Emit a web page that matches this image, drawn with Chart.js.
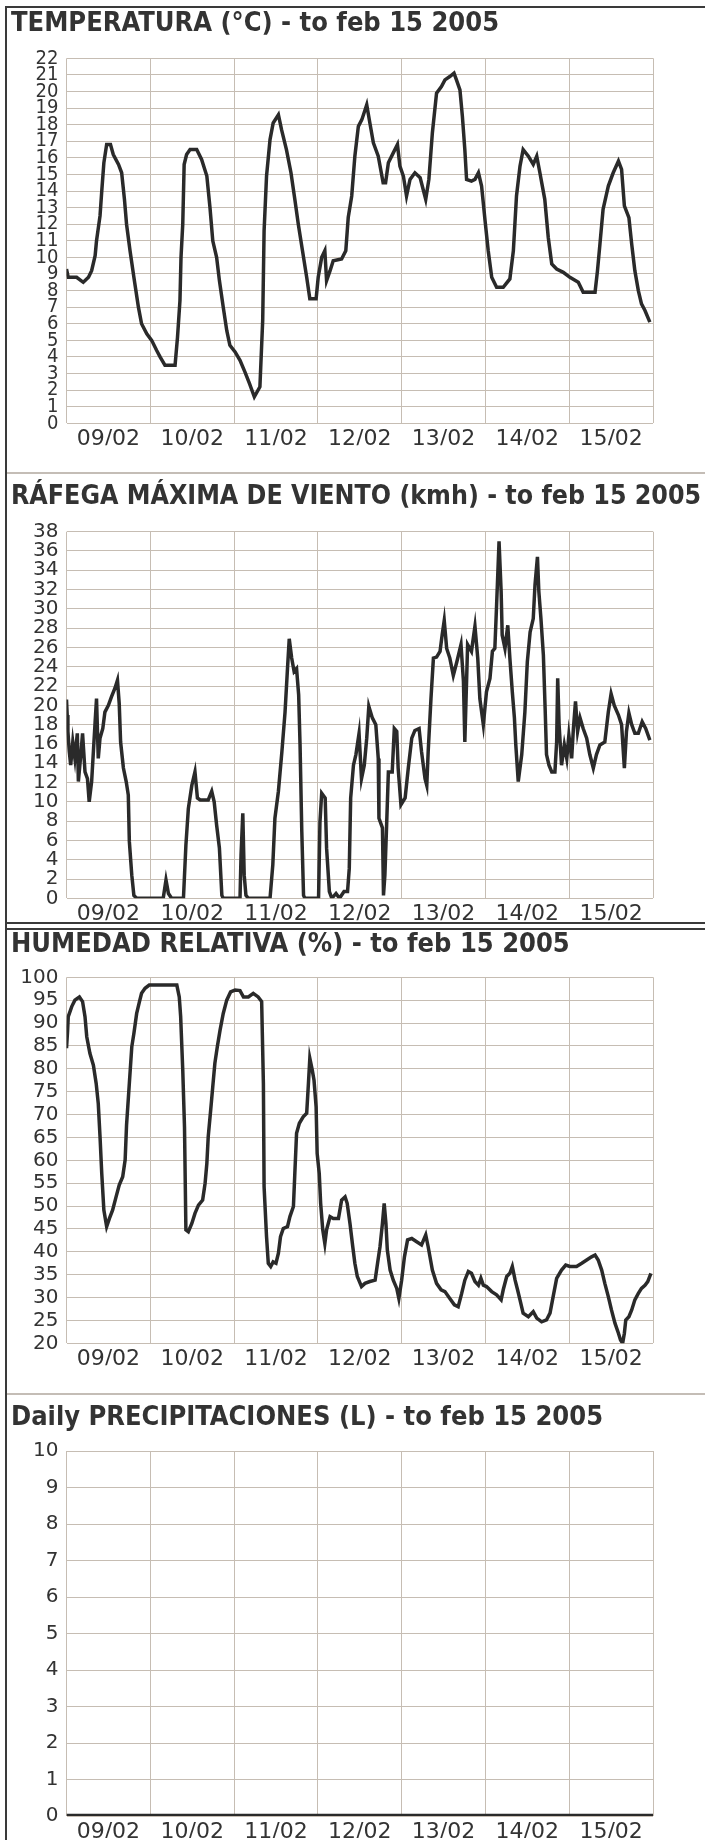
<!DOCTYPE html>
<html>
<head>
<meta charset="utf-8">
<script src="https://cdn.jsdelivr.net/npm/chart.js@4/dist/chart.umd.min.js"></script>
<style>
html,body{margin:0;padding:0;background:#ffffff;}
#page{position:relative;width:705px;height:1840px;overflow:hidden;background:#ffffff;}
.panel{position:absolute;left:0;width:705px;}
.panel canvas{display:block;}
.rule{position:absolute;z-index:5;}
</style>
</head>
<body>
<div id="page">
  <div class="panel" style="top:0px;height:473px"><canvas id="cTemp" width="705" height="473"></canvas></div>
  <div class="panel" style="top:473px;height:450px"><canvas id="cWind" width="705" height="450"></canvas></div>
  <div class="panel" style="top:930px;height:464px"><canvas id="cHum" width="705" height="464"></canvas></div>
  <div class="panel" style="top:1394px;height:446px"><canvas id="cRain" width="705" height="446"></canvas></div>

  <div class="rule" style="left:5px;top:6px;width:2px;height:1834px;background:#3a3a3a"></div>
  <div class="rule" style="left:5px;top:6px;width:700px;height:2px;background:#3a3a3a"></div>
  <div class="rule" style="left:7px;top:472px;width:698px;height:2px;background:#c4bdb6"></div>
  <div class="rule" style="left:5px;top:922px;width:700px;height:2px;background:#3a3a3a"></div>
  <div class="rule" style="left:5px;top:928px;width:700px;height:2px;background:#3a3a3a"></div>
  <div class="rule" style="left:7px;top:1393px;width:698px;height:2px;background:#c4bdb6"></div>
</div>
<script>
// ---------- categories / tick labels ----------
const dayLabels = ['09/02', '10/02', '11/02', '12/02', '13/02', '14/02', '15/02'];

// ---------- TEMPERATURA (°C) : hours since 09/02 00:00 ----------
const tempHours = [0,0.5,2.9,4.8,6.3,7.2,8.2,8.6,9.6,10.1,10.7,11.5,12.6,13.4,14.9,15.8,16.6,17.2,18.2,19.3,20.6,21.5,23.0,24.4,25.8,26.8,28.2,31.1,31.8,32.5,32.8,33.3,33.7,34.4,35.4,37.3,38.7,40.2,41.1,41.9,43.0,43.8,44.9,45.9,46.8,48.3,49.7,51.1,52.4,53.8,55.4,56.2,56.6,57.3,58.3,59.2,60.7,61.6,63.0,64.3,65.4,66.4,67.6,68.8,69.7,71.5,72.1,73.1,74.0,74.5,75.5,76.4,78.8,80.0,80.7,81.7,82.6,83.6,84.6,86.0,86.9,87.9,89.3,90.7,91.4,92.2,93.6,94.8,95.5,96.5,97.4,98.4,99.8,101.3,102.9,103.8,104.8,106.0,107.4,108.4,109.8,111.0,111.7,112.7,113.4,114.1,114.6,116.0,117.0,118.0,118.9,119.9,120.8,121.8,123.2,125.1,127.0,128.0,128.9,129.9,130.8,132.3,133.7,134.7,135.6,137.0,138.0,139.0,140.4,142.3,144.2,146.6,148.0,151.4,152.1,152.8,153.7,155.2,156.6,158.1,159.0,159.8,161.1,161.9,162.8,163.8,164.7,165.7,167.1];
const tempValues = [9.3,8.8,8.8,8.5,8.8,9.2,10.1,11.0,12.5,14.0,15.7,16.8,16.8,16.2,15.6,15.1,13.5,12.0,10.4,8.8,7.0,6.0,5.4,5.0,4.4,4.0,3.5,3.5,5.2,7.4,10.0,12.0,15.6,16.2,16.5,16.5,15.9,14.9,13.0,11.0,10.0,8.6,7.0,5.6,4.7,4.3,3.8,3.1,2.4,1.6,2.2,6.2,11.6,14.9,17.1,18.1,18.6,17.7,16.5,15.1,13.5,12.0,10.4,8.8,7.5,7.5,8.8,10.0,10.4,8.6,9.2,9.8,9.9,10.4,12.4,13.7,16.1,17.9,18.3,19.2,18.1,16.9,16.1,14.5,14.5,15.7,16.3,16.8,15.5,14.9,13.7,14.7,15.1,14.8,13.5,14.7,17.5,19.9,20.3,20.7,20.9,21.1,20.7,20.1,18.5,16.5,14.7,14.6,14.7,15.1,14.3,12.2,10.4,8.8,8.2,8.2,8.7,10.4,13.7,15.5,16.5,16.1,15.6,16.1,15.1,13.5,11.2,9.6,9.3,9.1,8.8,8.5,7.9,7.9,9.2,10.8,12.9,14.3,15.1,15.8,15.3,13.1,12.4,10.8,9.2,8.0,7.2,6.8,6.1];

// ---------- RÁFEGA MÁXIMA DE VIENTO (kmh) ----------
const windHours = [0,0.2,0.4,0.8,1.2,1.8,2.4,3.1,3.4,4.1,4.6,5.3,6.0,6.5,7.2,7.7,8.2,8.6,9.1,9.6,10.4,11.0,12.0,12.9,13.9,14.6,15.1,15.5,16.3,17.1,17.7,18.0,18.7,19.3,20.1,27.7,28.5,29.2,30.1,33.5,34.2,34.9,35.9,36.8,37.5,38.3,40.6,41.6,42.3,43.0,43.8,44.5,44.9,49.7,50.0,50.5,50.9,51.4,52.1,58.3,59.1,59.7,60.7,61.7,62.6,63.3,63.8,64.5,65.2,65.9,66.5,66.9,67.4,67.9,68.3,72.2,72.6,73.1,74.1,74.5,75.3,76.0,77.2,78.2,79.5,80.5,81.0,81.4,82.2,82.9,83.8,84.5,85.3,86.0,86.6,87.6,88.6,89.3,89.5,90.5,90.8,91.2,91.7,92.2,93.3,93.9,94.6,95.0,95.8,97.0,97.9,98.9,99.8,101.0,101.7,102.7,103.2,103.6,104.4,105.1,106.0,107.0,107.6,108.2,108.9,109.8,110.8,111.8,113.0,113.7,114.1,114.9,116.0,117.0,117.8,118.4,119.4,120.3,121.3,122.0,122.7,123.2,123.9,124.5,124.8,125.6,126.4,127.0,127.7,128.3,128.7,129.4,130.4,131.3,132.0,132.8,133.7,134.2,134.9,135.3,135.9,136.6,137.1,137.5,138.2,139.0,139.9,140.4,140.7,141.1,141.8,142.6,143.3,143.9,144.7,145.2,145.8,146.4,147.1,148.0,149.0,149.9,150.9,151.8,152.8,154.2,155.2,156.0,156.9,158.1,159.0,159.8,160.4,161.1,161.9,162.8,163.8,164.9,165.9,167.1];
const windValues = [20.6,19.0,17.3,15.2,13.8,16.2,14.5,17.1,12.1,14.9,17.1,13.1,12.4,10.0,12.1,15.2,18.3,20.7,14.5,16.6,17.6,19.3,20.0,20.9,21.8,22.6,20.2,16.2,13.5,12.1,10.7,5.9,2.4,0.3,0,0,1.9,0.5,0,0,5.5,9.3,11.7,13.1,10.4,10.2,10.2,11.1,10.0,7.6,5.2,0.3,0,0,4.5,8.8,2.4,0.3,0,0,3.5,8.3,11.1,15.2,19.3,23.8,26.9,24.9,23.5,23.8,21.1,15.9,6.9,0.3,0,0,7.9,10.9,10.4,5.2,0.7,0,0.5,0,0.7,0.7,3.1,10.4,13.8,14.9,17.1,12.4,13.8,16.6,19.9,18.7,18.0,14.5,8.3,7.3,0.3,2.4,7.6,13.1,13.1,17.6,17.3,13.5,9.7,10.4,13.5,16.6,17.4,17.6,15.2,12.4,11.7,15.2,20.7,24.9,25.0,25.6,27.3,28.8,25.9,24.9,23.1,24.5,26.3,22.5,16.2,26.3,25.6,28.2,24.9,20.7,18.0,21.4,22.8,25.6,25.9,30.4,37.0,31.8,27.3,25.9,28.3,24.9,21.4,18.7,15.9,12.1,14.9,19.3,24.5,27.6,29.0,32.5,35.4,31.8,29.0,25.2,19.7,14.9,13.8,13.1,13.1,16.2,22.8,18.0,13.8,15.9,14.5,16.9,14.5,17.6,20.4,17.3,18.7,17.6,16.6,14.9,13.5,14.9,15.9,16.2,19.3,21.2,20.0,19.0,18.0,13.5,17.3,19.2,18.0,17.1,17.1,18.3,17.6,16.4];

// ---------- HUMEDAD RELATIVA (%) ----------
const humHours = [0,0.3,0.5,1.5,2.4,3.7,4.6,5.3,5.8,6.7,7.7,8.5,9.1,9.6,10.1,10.7,11.5,12.3,13.2,14.2,15.1,16.1,16.8,17.2,18.0,18.7,19.3,20.1,20.9,21.5,22.5,23.7,31.6,32.3,32.7,33.3,33.8,34.2,34.9,35.9,36.8,37.8,39.0,39.7,40.2,40.6,41.3,41.9,42.5,43.2,44.0,44.9,45.9,47.0,48.3,49.7,50.7,52.1,53.5,54.9,55.9,56.4,56.6,57.3,57.8,58.5,59.2,60.0,60.7,61.3,62.1,63.3,64.0,65.0,65.4,65.9,66.7,67.8,68.8,69.3,69.7,70.4,70.9,71.5,71.8,72.4,72.8,73.4,74.0,74.5,75.5,76.4,77.9,78.8,79.8,80.4,81.2,82.0,82.6,83.3,84.5,85.5,86.9,88.4,89.1,89.8,90.5,91.0,91.5,91.9,92.7,93.6,94.6,95.2,96.0,96.8,97.7,98.9,100.3,101.7,102.9,103.6,104.8,106.0,107.3,108.4,109.8,111.1,112.2,113.2,114.1,115.1,116.0,117.0,118.0,118.7,119.4,120.3,121.8,123.2,124.5,125.1,126.1,127.0,127.7,128.5,129.2,129.9,130.8,132.3,133.7,134.7,136.1,137.5,138.5,139.4,140.4,141.8,143.0,144.2,146.1,147.6,149.0,150.4,151.4,152.3,153.3,154.2,155.2,156.1,157.1,158.1,158.7,159.3,159.8,160.2,161.1,161.9,162.8,163.8,164.7,165.7,166.5,167.4];
const humValues = [84.5,88.1,91.4,93.6,95.0,95.7,94.7,91.4,87.0,83.4,80.8,76.8,72.4,65.2,57.1,49.1,45.5,47.3,49.1,52.0,54.6,56.4,60.1,67.7,76.8,84.8,87.7,92.1,94.7,96.5,97.6,98.3,98.3,95.7,91.4,79.7,67.3,44.8,44.4,46.2,48.4,50.2,51.3,55.0,59.3,65.2,71.0,76.1,81.2,84.8,88.5,92.1,95.0,96.8,97.2,97.1,95.7,95.7,96.5,95.7,94.7,76.8,54.2,43.3,37.5,36.8,37.8,37.5,39.7,43.3,45.1,45.5,47.7,49.9,57.1,65.9,68.1,69.5,70.3,76.8,82.3,79.7,77.5,71.7,61.5,57.1,50.6,44.8,41.8,44.8,47.7,47.3,47.3,51.3,52.0,50.6,46.2,41.1,37.5,34.6,32.4,33.1,33.5,33.8,37.5,41.1,46.2,50.6,46.2,40.4,36.0,33.8,32.0,29.8,33.8,38.9,42.6,42.9,42.2,41.5,43.7,41.1,36.0,33.1,31.7,31.3,29.8,28.4,28.0,30.9,33.8,35.7,35.3,33.5,32.7,34.2,32.7,32.4,31.3,30.6,29.5,31.7,34.6,35.3,36.8,33.8,31.7,29.5,26.6,25.8,26.9,25.5,24.7,25.1,26.6,30.2,34.2,36.0,37.1,36.8,36.8,37.5,38.2,38.9,39.3,38.2,36.0,33.1,30.2,27.3,24.4,22.2,20.7,20.0,22.2,25.1,25.8,27.3,29.5,30.9,32.0,32.7,33.5,35.3];

// ---------- Daily PRECIPITACIONES (L) ----------
const rainHours = [0, 24, 48, 72, 96, 120, 144, 168];
const rainValues = [0, 0, 0, 0, 0, 0, 0, 0];

// ---------- titles ----------
const titles = {
  temp: 'TEMPERATURA (°C) - to feb 15 2005',
  wind: 'RÁFEGA MÁXIMA DE VIENTO (kmh) - to feb 15 2005',
  hum:  'HUMEDAD RELATIVA (%) - to feb 15 2005',
  rain: 'Daily PRECIPITACIONES (L) - to feb 15 2005'
};

// ---------- styling ----------
const INK = '#2a2a2a';
const TXT = '#333333';
const GRID = '#c6bdb3';
const HOURS_PER_DAY = 24;
const PLOT_W = 653 - 66.5;
const RIGHT_GUTTER = 52;

// Layout helper: title centre (px from canvas top), chart-area top and bottom (px from canvas top)
function buildChart(canvasId, o) {
  const pts = o.hours.map((h, i) => ({ x: h, y: o.values[i] }));
  const padTop = o.titleCenter - o.titleSize / 2;
  const titleGap = o.plotTop - padTop - o.titleSize;
  const padBottom = o.canvasH - 22 - o.plotBottom;
  return new Chart(document.getElementById(canvasId), {
    type: 'line',
    data: { datasets: [{ data: pts, borderColor: INK, borderWidth: o.lineWidth || 3.5,
      pointRadius: 0, tension: 0, fill: false, borderJoinStyle: 'miter' }] },
    options: {
      responsive: false, animation: false, devicePixelRatio: 1,
      layout: { padding: { left: 11, right: 0, top: padTop, bottom: padBottom } },
      plugins: {
        legend: { display: false }, tooltip: { enabled: false },
        title: { display: true, text: o.title, align: 'start', color: TXT,
          font: { family: 'DejaVu Sans Condensed', size: o.titleSize, weight: 'bold', lineHeight: 1 },
          padding: { top: 0, bottom: titleGap } }
      },
      scales: {
        x: {
          type: 'linear', min: 0, max: 7 * HOURS_PER_DAY,
          afterFit: s => { s.height = 22; },
          border: { display: false },
          grid: { color: GRID, lineWidth: 1, drawTicks: false },
          ticks: { stepSize: HOURS_PER_DAY, autoSkip: false, maxRotation: 0, minRotation: 0,
            padding: 3, color: TXT, labelOffset: PLOT_W / 14,
            font: { family: 'DejaVu Sans', size: 22 },
            callback: (v, i) => (i < dayLabels.length ? dayLabels[i] : '') }
        },
        y: {
          min: o.yMin, max: o.yMax,
          afterFit: s => { s.width = 55.5; },
          border: { display: false },
          grid: { color: GRID, lineWidth: 1, drawTicks: false },
          ticks: { stepSize: o.yStep, autoSkip: false, maxTicksLimit: 100, padding: 8, color: TXT,
            font: { family: o.yFont || 'DejaVu Sans', size: 20 } }
        },
        // empty right-hand gutter so the title can use the full panel width
        gutter: {
          type: 'linear', position: 'right', min: 0, max: 1,
          afterFit: s => { s.width = RIGHT_GUTTER; },
          border: { display: false }, grid: { display: false },
          ticks: { display: false }
        }
      }
    }
  });
}

buildChart('cTemp', { hours: tempHours, values: tempValues, title: titles.temp,
  yMin: 0, yMax: 22, yStep: 1, canvasH: 473, titleSize: 27, titleCenter: 24.05,
  plotTop: 58.3, plotBottom: 423.3, yFont: 'DejaVu Sans Condensed' });
buildChart('cWind', { hours: windHours, values: windValues, title: titles.wind,
  yMin: 0, yMax: 38, yStep: 2, canvasH: 450, titleSize: 26.5, titleCenter: 24.55,
  plotTop: 58.7, plotBottom: 425.3 });
buildChart('cHum', { hours: humHours, values: humValues, title: titles.hum,
  yMin: 20, yMax: 100, yStep: 5, canvasH: 464, titleSize: 27, titleCenter: 15.05,
  plotTop: 47.3, plotBottom: 413.3 });
buildChart('cRain', { hours: rainHours, values: rainValues, title: titles.rain,
  yMin: 0, yMax: 10, yStep: 1, canvasH: 446, titleSize: 27, titleCenter: 24.05,
  plotTop: 57, plotBottom: 422, lineWidth: 4.5 });
</script>
</body>
</html>
